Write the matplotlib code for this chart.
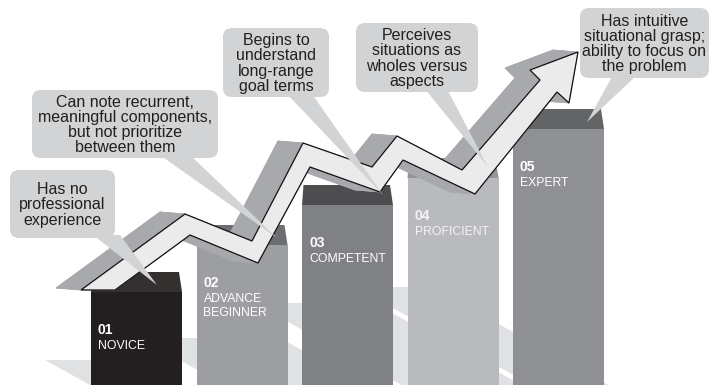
import matplotlib
matplotlib.use("Agg")
import matplotlib.pyplot as plt
from matplotlib.patches import Polygon, FancyBboxPatch

# --- data ---
stage_numbers = ["01", "02", "03", "04", "05"]
stage_names = ["NOVICE", "ADVANCE\nBEGINNER", "COMPETENT", "PROFICIENT", "EXPERT"]
stage_heights = [93, 140, 180, 207, 256]   # bar height in px above the bottom edge
notes = [
    "Has no\nprofessional\nexperience",
    "Can note recurrent,\nmeaningful components,\nbut not prioritize\nbetween them",
    "Begins to\nunderstand\nlong-range\ngoal terms",
    "Perceives\nsituations as\nwholes versus\naspects",
    "Has intuitive\nsituational grasp;\nability to focus on\nthe problem",
]

# --- layout (pixel space, y grows downwards) ---
W, H = 710, 385
BAR_X0, BAR_STEP, BAR_W, DEPTH = 91, 105.5, 91, 20
front_colors = ["#231f20", "#9d9ea1", "#808184", "#b9babd", "#8f9093"]
top_colors = ["#34302f", "#6d6e71", "#4d4d4f", "#939598", "#636466"]
BUBBLE = "#d1d3d4"
FONT = "Liberation Sans"

bubble_boxes = [(10, 170, 115, 238), (32, 90, 218, 158), (223, 28, 329, 97),
                (356, 23, 478, 92), (580, 8, 709, 78)]
bubble_tails = [((93, 120), (157, 285)), ((160, 190), (277, 238)),
                ((287, 312), (383, 195)), ((425, 447), (488, 167)),
                ((613, 637), (587, 122))]

# floor shadows: (top y, top-left x, top-right x), edges lean down-right
shadows = [(360, 45, 130), (338, 140, 280), (303, 254, 374), (287, 355, 432)]
SHADOW_LEAN = 1.8

arrow_front = [(81, 290), (185, 214), (252, 241), (303, 143), (372, 167),
               (397, 136), (462, 170), (540, 80), (530, 70), (578, 52),
               (569, 103), (557, 92), (475, 194), (403, 160), (380, 192),
               (310, 167), (258, 263), (190, 235), (115, 290)]
ARROW_SHIFT = (-25, -2)

fig = plt.figure(figsize=(W / 100, H / 100), dpi=100)
ax = fig.add_axes([0, 0, 1, 1])
ax.set_xlim(0, W)
ax.set_ylim(H, 0)
ax.axis("off")

# shadows
for top, xl, xr in shadows:
    d = (H - top) * SHADOW_LEAN
    ax.add_patch(Polygon([(xl, top), (xr, top), (xr + d, H), (xl + d, H)],
                         closed=True, facecolor="#e0e1e3", edgecolor="none", zorder=1))

# bars
lefts = [BAR_X0 + i * BAR_STEP for i in range(len(stage_heights))]
tops = [H - h for h in stage_heights]
ax.bar(lefts, stage_heights, width=BAR_W, bottom=tops, align="edge",
       color=front_colors, zorder=2)
for i, (x, t) in enumerate(zip(lefts, tops)):
    ax.add_patch(Polygon([(x, t), (x + BAR_W, t), (x + BAR_W - 3, t - DEPTH),
                          (x + 1.5, t - DEPTH)], closed=True,
                         facecolor=top_colors[i], edgecolor="none", zorder=2))
    tc = "white" if i != 3 else "#f4f4f5"
    ax.text(x + 7, t + 42, stage_numbers[i], fontsize=10, fontweight="bold",
            color=tc, family=FONT, va="baseline", ha="left", zorder=3)
    for j, line in enumerate(stage_names[i].split("\n")):
        ax.text(x + 7, t + 57 + 14.5 * j, line, fontsize=8.8, color=tc,
                family=FONT, va="baseline", ha="left", zorder=3)

# arrow: extruded side first, then the front face
sx, sy = ARROW_SHIFT
n = len(arrow_front)
shifted = [(px + sx, py + sy) for px, py in arrow_front]
side_kw = dict(closed=True, facecolor="#a7a9ac", edgecolor="#a7a9ac", lw=0.5, zorder=4)
ax.add_patch(Polygon(shifted, **side_kw))
for k in range(n):
    a, b = arrow_front[k], arrow_front[(k + 1) % n]
    ax.add_patch(Polygon([a, b, shifted[(k + 1) % n], shifted[k]], **side_kw))
ax.add_patch(Polygon(arrow_front, closed=True, facecolor="#ebebec",
                     edgecolor="#111111", lw=0.9, joinstyle="miter", zorder=5))

# speech bubbles
for (x0, y0, x1, y1), ((b0, b1), tip), note in zip(bubble_boxes, bubble_tails, notes):
    ax.add_patch(FancyBboxPatch((x0, y0), x1 - x0, y1 - y0,
                                boxstyle="round,pad=0,rounding_size=9",
                                facecolor=BUBBLE, edgecolor="none", zorder=6))
    ax.add_patch(Polygon([(b0, y1 - 3), (b1, y1 - 3), tip], closed=True,
                         facecolor=BUBBLE, edgecolor="none", zorder=6))
    lines = note.split("\n")
    cx, cy = (x0 + x1) / 2, (y0 + y1) / 2
    for j, line in enumerate(lines):
        ax.text(cx, cy + 5.5 + (j - (len(lines) - 1) / 2) * 15.2, line,
                fontsize=11.5, color="#231f20", family=FONT,
                ha="center", va="baseline", zorder=7)

fig.savefig("out.png", dpi=100)
